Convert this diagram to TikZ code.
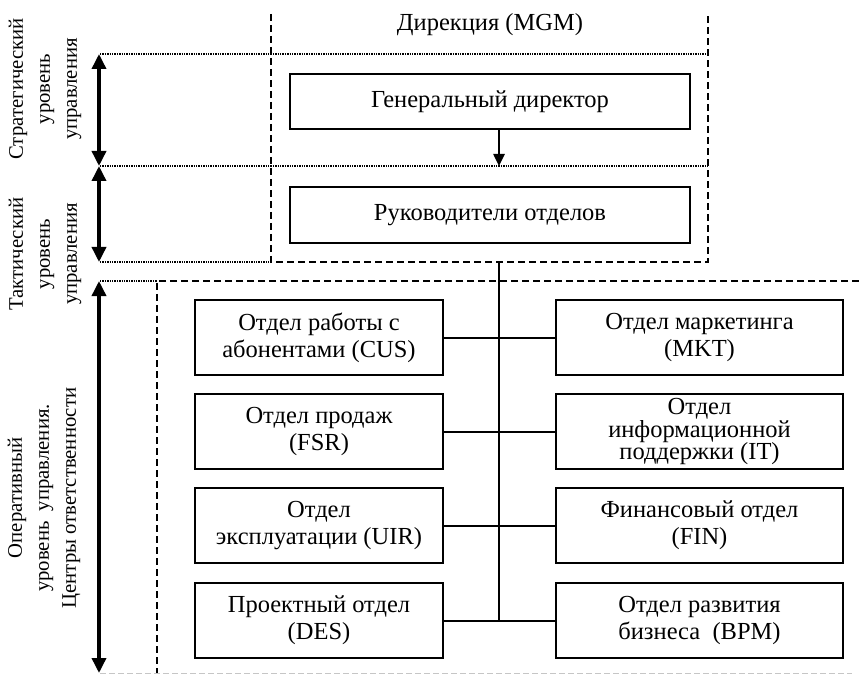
\documentclass[tikz,border=0pt]{standalone}
\usepackage{fontspec}
\setmainfont{Liberation Serif}
\usetikzlibrary{arrows.meta}
\begin{document}
\begin{tikzpicture}[x=1pt,y=-1pt,
  txt/.style={font=\fontsize{24.5}{27}\selectfont, align=center, inner sep=0pt},
  box/.style={txt, draw, line width=2pt, minimum height=75pt},
  lbox/.style={box, minimum width=248pt},
  rbox/.style={box, minimum width=287pt},
  topbox/.style={box, minimum width=400pt, minimum height=55pt},
  side/.style={font=\fontsize{20.7}{27}\selectfont, align=center, inner sep=0pt, rotate=90},
  dotln/.style={line width=1.5pt, dash pattern=on 1.4pt off 1pt},
  dashln/.style={line width=2pt, dash pattern=on 7pt off 4pt},
  grayln/.style={line width=1pt, gray!45, dash pattern=on 6pt off 3pt},
  conn/.style={line width=2pt},
  bigarr/.style={line width=3.5pt, {Triangle[length=15pt,width=14pt]}-{Triangle[length=15pt,width=14pt]}},
  downarr/.style={line width=2.5pt, -{Triangle[length=12pt,width=11pt]}},
]
\useasboundingbox (0,0) rectangle (859,676);

% coordinates
\coordinate (s1) at (99,54);
\coordinate (s2) at (99,166);
\coordinate (s3) at (99,262);
\coordinate (s4) at (99,281);
\coordinate (s5) at (99,673);
\coordinate (dirS) at (499,262);
\coordinate (tacTop) at (499,166);

% Direction dashed box (open at top)
\draw[dashln] (271,14) -- (271,262) -- (708,262) -- (708,14);
\node[txt] (dir) at (490,25) {Дирекция (MGM)};

% dotted level lines
\draw[dotln] (100,54) -- (708,54);
\draw[dotln] (100,166) -- (708,166);
\draw[dotln] (100,262) -- (271,262);
\draw[dotln] (100,281) -- (157,281);

% operational dashed frame
\draw[dashln] (859,281) -- (157,281) -- (157,673);
\draw[grayln] (100,673) -- (852,673);

% level arrows
\draw[bigarr] (s1) -- (s2);
\draw[bigarr] (s2) -- (s3);
\draw[bigarr] (s4) -- (s5);

% side labels
\node[side] (strat) at (45,89) {Стратегический\\уровень\\управления};
\node[side] (tact) at (45,254) {Тактический\\уровень\\управления};
\node[side] (oper) at (44,498) {Оперативный\\уровень\ \ управления.\\Центры ответственности};

% top boxes
\node[topbox] (gd) at (490,101.5) {Генеральный директор};
\node[topbox, minimum height=56pt] (ro) at (490,215) {Руководители отделов};
\draw[downarr] (gd.south -| tacTop) -- (tacTop);

% department boxes
\node[lbox] (L1) at (319,337.5) {Отдел работы с\\абонентами (CUS)};
\node[lbox] (L2) at (319,431.5) {Отдел продаж\\(FSR)};
\node[lbox] (L3) at (319,525.5) {Отдел\\эксплуатации (UIR)};
\node[lbox] (L4) at (319,620.5) {Проектный отдел\\(DES)};
\node[rbox] (R1) at (699.5,337.5) {Отдел маркетинга\\(MKT)};
\node[rbox, font=\fontsize{24.5}{22.5}\selectfont] (R2) at (699.5,431.5) {Отдел\\информационной\\поддержки (IT)};
\node[rbox] (R3) at (699.5,525.5) {Финансовый отдел\\(FIN)};
\node[rbox] (R4) at (699.5,620.5) {Отдел развития\\бизнеса\ \ (BPM)};

% connectors
\draw[conn] (dirS) -- (L4.east -| dirS);
\draw[conn] (L1.east) -- (R1.west);
\draw[conn] (L2.east) -- (R2.west);
\draw[conn] (L3.east) -- (R3.west);
\draw[conn] (L4.east) -- (R4.west);
\end{tikzpicture}
\end{document}
